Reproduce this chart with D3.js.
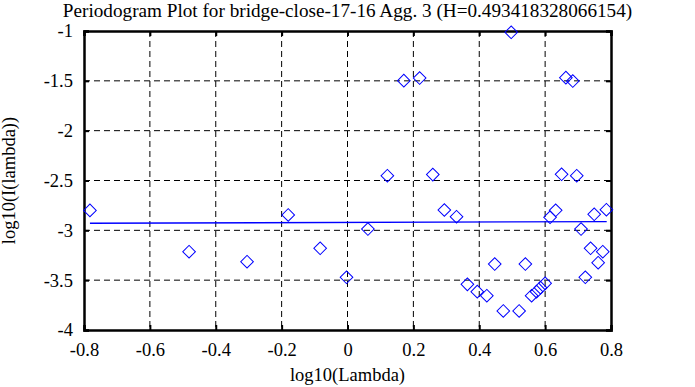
<!DOCTYPE html>
<html><head><meta charset="utf-8">
<script src="https://cdn.jsdelivr.net/npm/d3@7"></script>
<style>html,body{margin:0;padding:0;background:#fff;}svg{display:block;}</style>
</head><body>
<script>
const titleText = "Periodogram Plot for bridge-close-17-16 Agg. 3 (H=0.493418328066154)";
const xLabel = "log10(Lambda)";
const yLabel = "log10(I(lambda))";
const xTicks = [-0.8, -0.6, -0.4, -0.2, 0, 0.2, 0.4, 0.6, 0.8];
const yTicks = [-1, -1.5, -2, -2.5, -3, -3.5, -4];
const logLambda = [-0.782,-0.481,-0.305,-0.180,-0.083,-0.003,0.062,0.121,0.171,0.219,0.259,0.294,0.331,0.364,0.394,0.423,0.447,0.473,0.497,0.521,0.540,0.559,0.574,0.586,0.600,0.615,0.632,0.650,0.663,0.684,0.696,0.709,0.722,0.738,0.749,0.761,0.775,0.786];
const logI = [-2.800,-3.214,-3.315,-2.846,-3.180,-3.471,-2.987,-2.452,-1.498,-1.472,-2.441,-2.796,-2.863,-3.542,-3.615,-3.656,-3.338,-3.809,-1.013,-3.809,-3.338,-3.656,-3.615,-3.575,-3.532,-2.869,-2.799,-2.438,-1.468,-1.502,-2.452,-2.987,-3.471,-3.180,-2.839,-3.325,-3.214,-2.793];
const fitX = [-0.782, 0.787];
const fitY = [-2.929, -2.913];

const W = 695, H = 387;
const m = {l:84, r:84, t:31, b:57};
const svg = d3.select("body").append("svg").attr("width", W).attr("height", H)
  .style("font-family", "'Liberation Serif','Times New Roman',serif");
const x = d3.scaleLinear().domain([-0.8, 0.8]).range([m.l, W - m.r]);
const y = d3.scaleLinear().domain([-4, -1]).range([H - m.b, m.t]);

// grid
const g = svg.append("g");
g.selectAll("line.gx").data(xTicks.slice(1, -1)).join("line")
  .attr("x1", d => x(d)).attr("x2", d => x(d)).attr("y1", y(-1)).attr("y2", y(-4))
  .attr("stroke", "#000").attr("stroke-width", 1).attr("stroke-dasharray", "6,4");
g.selectAll("line.gy").data(yTicks.slice(1, -1)).join("line")
  .attr("y1", d => y(d)).attr("y2", d => y(d)).attr("x1", x(-0.8)).attr("x2", x(0.8))
  .attr("stroke", "#000").attr("stroke-width", 1).attr("stroke-dasharray", "6,4");

// axes
const fmt = d => d3.format("")(d).replace("−", "-");
const axB = svg.append("g").attr("transform", `translate(0,${y(-4)})`)
  .call(d3.axisBottom(x).tickValues(xTicks).tickSize(-5).tickPadding(13).tickFormat(fmt));
const axT = svg.append("g").attr("transform", `translate(0,${y(-1)})`)
  .call(d3.axisTop(x).tickValues(xTicks).tickSize(-5).tickFormat(""));
const axL = svg.append("g").attr("transform", `translate(${x(-0.8)},0)`)
  .call(d3.axisLeft(y).tickValues(yTicks).tickSize(-5).tickPadding(11).tickFormat(fmt));
const axR = svg.append("g").attr("transform", `translate(${x(0.8)},0)`)
  .call(d3.axisRight(y).tickValues(yTicks).tickSize(-5).tickFormat(""));
[axB, axT, axL, axR].forEach(a => {
  a.select(".domain").attr("stroke", "#000").attr("stroke-width", 2.5);
  a.selectAll(".tick line").attr("stroke", "#000").attr("stroke-width", 2);
  a.selectAll("text").attr("font-size", 18.5).attr("fill", "#000")
    .style("font-family", "'Liberation Serif','Times New Roman',serif");
});

// fit line
const line = d3.line().x(d => x(d[0])).y(d => y(d[1]));
svg.append("path").datum(fitX.map((v, i) => [v, fitY[i]])).attr("d", line)
  .attr("fill", "none").attr("stroke", "#0000ff").attr("stroke-width", 1.3);

// points
const sym = d3.symbol().type(d3.symbolSquare).size(80);
svg.selectAll("path.pt").data(logLambda.map((v, i) => [v, logI[i]])).join("path")
  .attr("d", sym)
  .attr("transform", d => `translate(${x(d[0])},${y(d[1])}) rotate(45)`)
  .attr("fill", "none").attr("stroke", "#0000ff").attr("stroke-width", 1);

// labels
svg.append("text").attr("x", W / 2).attr("y", 17).attr("text-anchor", "middle")
  .attr("font-size", 19.2).text(titleText);
svg.append("text").attr("x", (x(-0.8) + x(0.8)) / 2).attr("y", 381).attr("text-anchor", "middle")
  .attr("font-size", 18.5).text(xLabel);
svg.append("text").attr("transform", `translate(15,${(y(-1) + y(-4)) / 2}) rotate(-90)`)
  .attr("text-anchor", "middle").attr("font-size", 18.5).text(yLabel);
</script>
</body></html>
